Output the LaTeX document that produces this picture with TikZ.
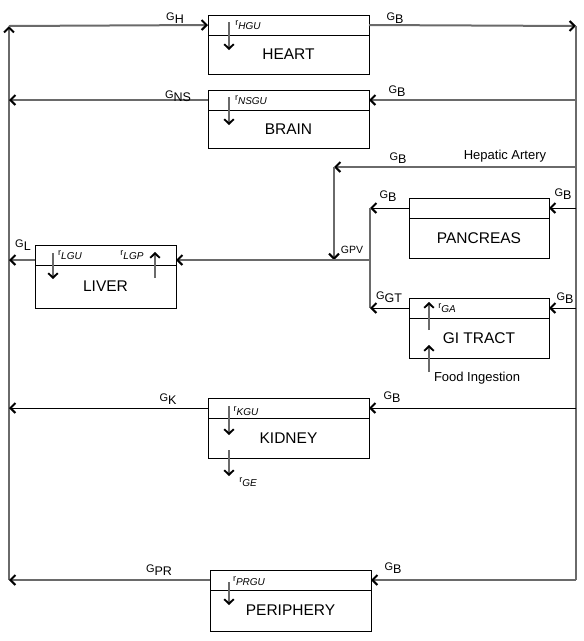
\documentclass[tikz,border=0pt]{standalone}
\usepackage{fontspec}
\setmainfont{Liberation Sans}
\usetikzlibrary{arrows.meta}
\definecolor{lg}{HTML}{6A6A6A}
\newcommand{\Glab}[1]{{\fontsize{11}{11}\selectfont G}\raisebox{-0.55ex}{\fontsize{12.5}{12.5}\selectfont #1}}
\newcommand{\rlab}[1]{{\fontsize{9}{9}\selectfont r}\raisebox{-0.75ex}{\fontsize{10}{10}\selectfont\itshape #1}}
\tikzset{
  chev/.tip={Straight Barb[length=5pt,width=10pt,line width=2pt,color=black]},
  schev/.tip={Straight Barb[length=4.5pt,width=9.5pt,line width=1.9pt,color=black]},
  gline/.style={draw=lg, line width=2pt},
  gflow/.style={gline, -{chev}},
  bflow/.style={draw=black, line width=1pt, -{chev}},
  rarr/.style={draw=lg, line width=1.3pt, -{schev}},
  hdr/.style={draw, line width=0.9pt, inner sep=0pt, outer sep=0pt, minimum height=20pt, anchor=north west},
  organ/.style={draw, line width=0.9pt, inner sep=0pt, outer sep=0pt, anchor=north, font=\fontsize{15.5}{17}\selectfont},
  lab/.style={inner sep=0pt},
  big/.style={inner sep=0pt, font=\fontsize{13}{15}\selectfont}
}
\begin{document}
\begin{tikzpicture}[x=1pt,y=-1pt]
\useasboundingbox (0,0) rectangle (584,641);
% boxes
\node[hdr, minimum width=161pt] (heart-h) at (208,15) {};
\node[organ, minimum width=161pt, minimum height=39pt] (heart) at (heart-h.south) {HEART};
\node[hdr, minimum width=161pt] (brain-h) at (208,90) {};
\node[organ, minimum width=161pt, minimum height=38pt] (brain) at (brain-h.south) {BRAIN};
\node[hdr, minimum width=140pt] (pan-h) at (409,198) {};
\node[organ, minimum width=140pt, minimum height=40pt] (pan) at (pan-h.south) {PANCREAS};
\node[hdr, minimum width=141pt] (liver-h) at (35,245) {};
\node[organ, minimum width=141pt, minimum height=43pt] (liver) at (liver-h.south) {LIVER};
\node[hdr, minimum width=140pt] (gi-h) at (409,298) {};
\node[organ, minimum width=140pt, minimum height=40pt] (gi) at (gi-h.south) {GI TRACT};
\node[hdr, minimum width=161pt] (kid-h) at (208,398) {};
\node[organ, minimum width=161pt, minimum height=40pt] (kid) at (kid-h.south) {KIDNEY};
\node[hdr, minimum width=161pt] (per-h) at (210,570) {};
\node[organ, minimum width=161pt, minimum height=41pt] (per) at (per-h.south) {PERIPHERY};
% coordinates
\coordinate (Ltop) at (9,26);
\coordinate (Lbot) at (9,580);
\coordinate (Rtop) at (576,26);
\coordinate (Rbot) at (576,580);
\coordinate (HA) at (576,167);
\coordinate (PV) at (334,167);
\coordinate (PVend) at (334,260);
\coordinate (Jp) at (370,208);
\coordinate (Jg) at (370,308);
\coordinate (Jl) at (370,260);
\coordinate (Lin) at ([yshift=-5pt]liver-h.east);
\coordinate (Lout) at ([yshift=-5pt]liver-h.west);
% main circuit
\draw[gflow] (Lbot) -- (Ltop);
\draw[gflow] (Ltop) -- (heart-h.west);
\draw[gflow] (heart-h.east) -- (Rtop);
\draw[gline] (Rtop) -- (Rbot);
\draw[gflow] (Rtop |- brain-h.east) -- (brain-h.east);
\draw[gflow] (brain-h.west) -- (Ltop |- brain-h.west);
\draw[gflow] (HA) -- (PV);
\draw[gflow] (PV) -- (PVend);
\draw[bflow] (Rtop |- pan-h.east) -- (pan-h.east);
\draw[bflow] (pan-h.west) -- (Jp);
\draw[gline] (Jp) -- (Jg);
\draw[bflow] (Rtop |- gi-h.east) -- (gi-h.east);
\draw[bflow] (gi-h.west) -- (Jg);
\draw[gflow] (Jl) -- (Lin);
\draw[gflow] (Lout) -- (Ltop |- Lout);
\draw[bflow] (Rtop |- kid-h.east) -- (kid-h.east);
\draw[bflow] (kid-h.west) -- (Ltop |- kid-h.west);
\draw[gflow] (Rtop |- per-h.east) -- (per-h.east);
\draw[gflow] (per-h.west) -- (Ltop |- per-h.west);
% rate arrows
\coordinate (hgu1) at (229,22);  \coordinate (hgu2) at (229,50);
\coordinate (nsgu1) at (229,97); \coordinate (nsgu2) at (229,125);
\coordinate (lgu1) at (53,253);  \coordinate (lgu2) at (53,279);
\coordinate (lgp1) at (155,278); \coordinate (lgp2) at (155,252);
\coordinate (ga1) at (429,330);  \coordinate (ga2) at (429,302);
\coordinate (fi1) at (429,372);  \coordinate (fi2) at (429,345);
\coordinate (kgu1) at (229,406); \coordinate (kgu2) at (229,435);
\coordinate (ge1) at (229,450);  \coordinate (ge2) at (229,476);
\coordinate (prgu1) at (229,582);\coordinate (prgu2) at (229,605);
\draw[rarr] (hgu1) -- (hgu2);
\draw[rarr] (nsgu1) -- (nsgu2);
\draw[rarr] (lgu1) -- (lgu2);
\draw[rarr] (lgp1) -- (lgp2);
\draw[rarr] (ga1) -- (ga2);
\draw[rarr] (fi1) -- (fi2);
\draw[rarr] (kgu1) -- (kgu2);
\draw[rarr] (ge1) -- (ge2);
\draw[rarr] (prgu1) -- (prgu2);
% labels
\node[lab] (tGH) at (175,18) {\Glab{H}};
\node[lab] (tGBh) at (395,18) {\Glab{B}};
\node[lab] (tGNS) at (178,96) {\Glab{NS}};
\node[lab] (tGBb) at (397,91) {\Glab{B}};
\node[lab] (tGBha) at (398,158) {\Glab{B}};
\node[big] (tHA) at (505,156) {Hepatic Artery};
\node[lab] (tGBpl) at (388,196) {\Glab{B}};
\node[lab] (tGBpr) at (563,194) {\Glab{B}};
\node[lab, font=\fontsize{10.5}{11}\selectfont] (tGPV) at (352,250) {GPV};
\node[lab] (tGL) at (23,245) {\Glab{L}};
\node[lab] (trLGU) at (70,255) {\rlab{LGU}};
\node[lab] (trLGP) at (132,255) {\rlab{LGP}};
\node[lab] (trHGU) at (248,25) {\rlab{HGU}};
\node[lab] (trNSGU) at (251,100) {\rlab{NSGU}};
\node[lab] (trGA) at (447,308) {\rlab{GA}};
\node[big] (tFI) at (477,378) {Food Ingestion};
\node[lab] (tGGT) at (389,297) {\Glab{GT}};
\node[lab] (tGBg) at (565,298) {\Glab{B}};
\node[lab] (tGK) at (168,399) {\Glab{K}};
\node[lab] (tGBk) at (392,397) {\Glab{B}};
\node[lab] (trKGU) at (246,411) {\rlab{KGU}};
\node[lab] (trGE) at (248,482) {\rlab{GE}};
\node[lab] (tGPR) at (159,570) {\Glab{PR}};
\node[lab] (tGBp) at (393,568) {\Glab{B}};
\node[lab] (trPRGU) at (249,581) {\rlab{PRGU}};
\end{tikzpicture}
\end{document}
